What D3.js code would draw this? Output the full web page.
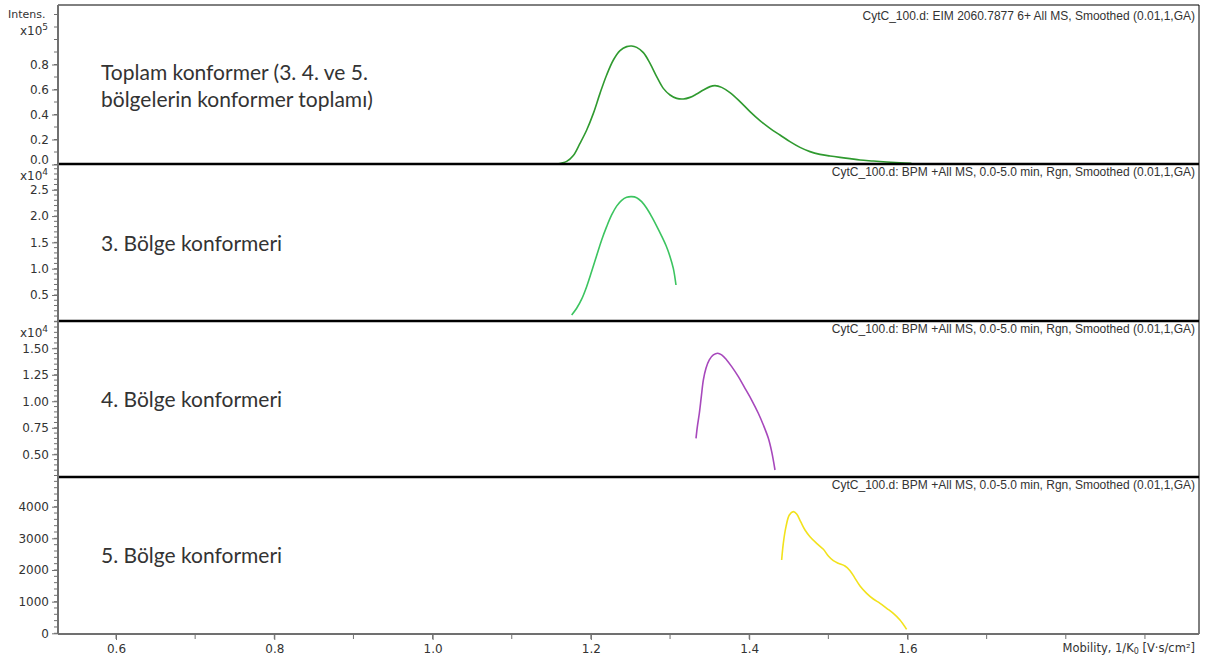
<!DOCTYPE html>
<html>
<head>
<meta charset="utf-8">
<script src="https://cdn.jsdelivr.net/npm/d3@7"></script>
<style>
  body { margin: 0; background: #fff; }
  text { fill: #333; }
</style>
</head>
<body>
<svg id="chart" width="1209" height="659"></svg>
<script>
// Mobility axis (1/K0)
const mobilityTickLabels = [0.6, 0.8, 1.0, 1.2, 1.4, 1.6];

// Total conformer trace, intensity in units of 1e5
const totalMobility = [1.1568, 1.1694, 1.1778, 1.1862, 1.1947, 1.2031, 1.2115, 1.2199, 1.2284, 1.2368, 1.2452, 1.2515, 1.2578, 1.2663, 1.2747, 1.2831, 1.2915, 1.3000, 1.3084, 1.3168, 1.3252, 1.3336, 1.3421, 1.3505, 1.3568, 1.3652, 1.3757, 1.3884, 1.4010, 1.4136, 1.4263, 1.4389, 1.4515, 1.4642, 1.4768, 1.4894, 1.5021, 1.5147, 1.5273, 1.5400, 1.5568, 1.5737, 1.5905, 1.6050];
const totalIntensity = [0.004, 0.025, 0.072, 0.169, 0.276, 0.409, 0.569, 0.716, 0.836, 0.911, 0.943, 0.948, 0.937, 0.895, 0.809, 0.703, 0.609, 0.556, 0.529, 0.524, 0.537, 0.564, 0.596, 0.623, 0.631, 0.617, 0.575, 0.503, 0.423, 0.351, 0.289, 0.236, 0.183, 0.137, 0.103, 0.081, 0.068, 0.057, 0.047, 0.036, 0.028, 0.020, 0.014, 0.010];

// Region 3 conformer, intensity in units of 1e4
const region3Mobility = [1.1757, 1.1820, 1.1883, 1.1946, 1.2010, 1.2073, 1.2136, 1.2199, 1.2262, 1.2325, 1.2389, 1.2452, 1.2515, 1.2578, 1.2641, 1.2705, 1.2768, 1.2831, 1.2894, 1.2949, 1.3000, 1.3042, 1.3075];
const region3Intensity = [0.120, 0.247, 0.420, 0.658, 0.950, 1.250, 1.546, 1.799, 2.021, 2.190, 2.300, 2.357, 2.369, 2.350, 2.274, 2.148, 1.989, 1.810, 1.620, 1.440, 1.229, 1.000, 0.690];

// Region 4 conformer, intensity in units of 1e4
const region4Mobility = [1.3328, 1.3345, 1.3370, 1.3395, 1.3421, 1.3454, 1.3496, 1.3547, 1.3602, 1.3652, 1.3715, 1.3779, 1.3863, 1.3947, 1.4031, 1.4115, 1.4179, 1.4242, 1.4284, 1.4326];
const region4Intensity = [0.651, 0.761, 0.887, 1.044, 1.201, 1.311, 1.390, 1.437, 1.453, 1.437, 1.390, 1.327, 1.232, 1.122, 1.012, 0.887, 0.776, 0.651, 0.525, 0.352];

// Region 5 conformer, raw intensity
const region5Mobility = [1.4410, 1.4431, 1.4465, 1.4507, 1.4558, 1.4600, 1.4650, 1.4705, 1.4768, 1.4852, 1.4937, 1.5000, 1.5063, 1.5126, 1.5210, 1.5274, 1.5337, 1.5400, 1.5484, 1.5568, 1.5653, 1.5737, 1.5821, 1.5905, 1.5989];
const region5Intensity = [2316, 2843, 3369, 3738, 3843, 3769, 3527, 3264, 3053, 2843, 2653, 2442, 2295, 2211, 2126, 1979, 1737, 1494, 1263, 1084, 947, 789, 631, 420, 125];

// Panel axis labels
const panel1TickLabels = [0.0, 0.2, 0.4, 0.6, 0.8];
const panel2TickLabels = [0.5, 1.0, 1.5, 2.0, 2.5];
const panel3TickLabels = [0.50, 0.75, 1.00, 1.25, 1.50];
const panel4TickLabels = [0, 1000, 2000, 3000, 4000];

const headerTotal = "CytC_100.d: EIM 2060.7877 6+ All MS, Smoothed (0.01,1,GA)";
const headerRegion = "CytC_100.d: BPM +All MS, 0.0-5.0 min, Rgn, Smoothed (0.01,1,GA)";

const svg = d3.select("#chart");
const left = 58, right = 1199;
const x = d3.scaleLinear().domain([0.6, 1.6]).range([116, 907.5]);

const panels = [
  { top: 5, bottom: 164.5, domain: [0, 1.276], xs: totalMobility, ys: totalIntensity,
    color: "#2f9a2f", labels: panel1TickLabels, minor: 0.1, fmt: d3.format(".1f"),
    header: headerTotal, exp: "5",
    title: ["Toplam konformer (3. 4. ve 5.", "bölgelerin konformer toplamı)"] },
  { top: 164, bottom: 321.3, domain: [0, 2.99], xs: region3Mobility, ys: region3Intensity,
    color: "#3cc460", labels: panel2TickLabels, minor: 0.1, fmt: d3.format(".1f"),
    header: headerRegion, exp: "4", title: ["3. Bölge konformeri"] },
  { top: 321, bottom: 477, domain: [0.286, 1.757], xs: region4Mobility, ys: region4Intensity,
    color: "#a748bc", labels: panel3TickLabels, minor: 0.05, fmt: d3.format(".2f"),
    header: headerRegion, exp: "4", title: ["4. Bölge konformeri"] },
  { top: 477, bottom: 633.3, domain: [0, 4938], xs: region5Mobility, ys: region5Intensity,
    color: "#f2e21c", labels: panel4TickLabels, minor: 200, fmt: d3.format("d"),
    header: headerRegion, exp: null, title: ["5. Bölge konformeri"] }
];

const axisColor = "#707070";
const tickFont = "'DejaVu Sans', sans-serif";

panels.forEach((p, i) => {
  const y = d3.scaleLinear().domain(p.domain).range([p.bottom, p.top]);

  // minor ticks
  const minorTicks = d3.range(Math.ceil(p.domain[0] / p.minor - 1e-6) * p.minor, p.domain[1] + 1e-9, p.minor);
  svg.append("g").selectAll("line").data(minorTicks).join("line")
    .attr("x1", left - 4).attr("x2", left)
    .attr("y1", d => y(d)).attr("y2", d => y(d))
    .attr("stroke", axisColor).attr("stroke-width", 1);

  // labelled ticks
  const axis = d3.axisLeft(y).tickValues(p.labels).tickFormat(p.fmt).tickSize(6).tickPadding(3);
  const g = svg.append("g").attr("transform", `translate(${left},0)`).call(axis);
  g.select(".domain").remove();
  g.selectAll(".tick line").attr("stroke", axisColor);
  g.selectAll(".tick text").style("font-family", tickFont).style("font-size", "12px").attr("fill", "#333");
  // the zero label of the top panel sits just above the panel separator
  if (i === 0) g.selectAll(".tick text").filter(d => d === 0).attr("dy", "-0.12em");

  // exponent label
  if (p.exp) {
    const t = svg.append("text")
      .attr("x", 48).attr("y", i === 0 ? 35 : p.top + 16)
      .attr("text-anchor", "end")
      .style("font-family", tickFont).style("font-size", "12px");
    t.append("tspan").text("x10");
    t.append("tspan").attr("dy", -5).style("font-size", "9px").text(p.exp);
  }

  // trace
  const line = d3.line().x((d, k) => x(p.xs[k])).y(d => y(d)).curve(d3.curveCatmullRom);
  svg.append("path").datum(p.ys)
    .attr("d", line)
    .attr("fill", "none").attr("stroke", p.color).attr("stroke-width", 1.6);

  // header
  svg.append("text").attr("x", right - 4).attr("y", p.top + (i === 0 ? 15 : 12))
    .attr("text-anchor", "end")
    .style("font-family", "'Liberation Sans', sans-serif").style("font-size", "12px")
    .attr("fill", "#222")
    .text(p.header);

  // region title
  const mid = (p.top + p.bottom) / 2;
  p.title.forEach((line, k) => {
    svg.append("text")
      .attr("x", 101)
      .attr("y", i === 0 ? 80 + k * 27 : mid + 8)
      .style("font-family", "Lato, sans-serif").style("font-size", "21px")
      .attr("fill", "#111")
      .text(line);
  });
});

svg.append("text").attr("x", 8).attr("y", 18)
  .style("font-family", tickFont).style("font-size", "11px").text("Intens.");

// frame: separators, left axis, right border
svg.append("line").attr("x1", left).attr("x2", right).attr("y1", 5).attr("y2", 5)
  .attr("stroke", "#000").attr("stroke-width", 1);
[164, 321, 477].forEach(yy => {
  svg.append("line").attr("x1", left).attr("x2", right).attr("y1", yy).attr("y2", yy)
    .attr("stroke", "#000").attr("stroke-width", 2.5);
});
svg.append("line").attr("x1", right).attr("x2", right).attr("y1", 5).attr("y2", 634)
  .attr("stroke", "#000").attr("stroke-width", 1);
svg.append("line").attr("x1", left).attr("x2", left).attr("y1", 5).attr("y2", 634)
  .attr("stroke", axisColor).attr("stroke-width", 2);

// mobility axis
const xMinor = d3.range(0.6, 1.95, 0.1);
svg.append("g").selectAll("line").data(xMinor).join("line")
  .attr("x1", d => x(d)).attr("x2", d => x(d))
  .attr("y1", 634).attr("y2", 639)
  .attr("stroke", axisColor).attr("stroke-width", 1);
svg.append("line").attr("x1", left).attr("x2", right).attr("y1", 634).attr("y2", 634)
  .attr("stroke", axisColor).attr("stroke-width", 2);
const xAxis = d3.axisBottom(x).tickValues(mobilityTickLabels).tickFormat(d3.format(".1f")).tickSize(6).tickPadding(4);
const gx = svg.append("g").attr("transform", "translate(0,634)").call(xAxis);
gx.select(".domain").remove();
gx.selectAll(".tick line").attr("stroke", axisColor);
gx.selectAll(".tick text").style("font-family", tickFont).style("font-size", "12px").attr("fill", "#333");

const xl = svg.append("text").attr("x", 1195).attr("y", 652).attr("text-anchor", "end")
  .style("font-family", tickFont).style("font-size", "11.5px");
xl.append("tspan").text("Mobility, 1/K");
xl.append("tspan").attr("dy", 2).style("font-size", "8px").text("0");
xl.append("tspan").attr("dy", -2).text(" [V·s/cm²]");
</script>
</body>
</html>
